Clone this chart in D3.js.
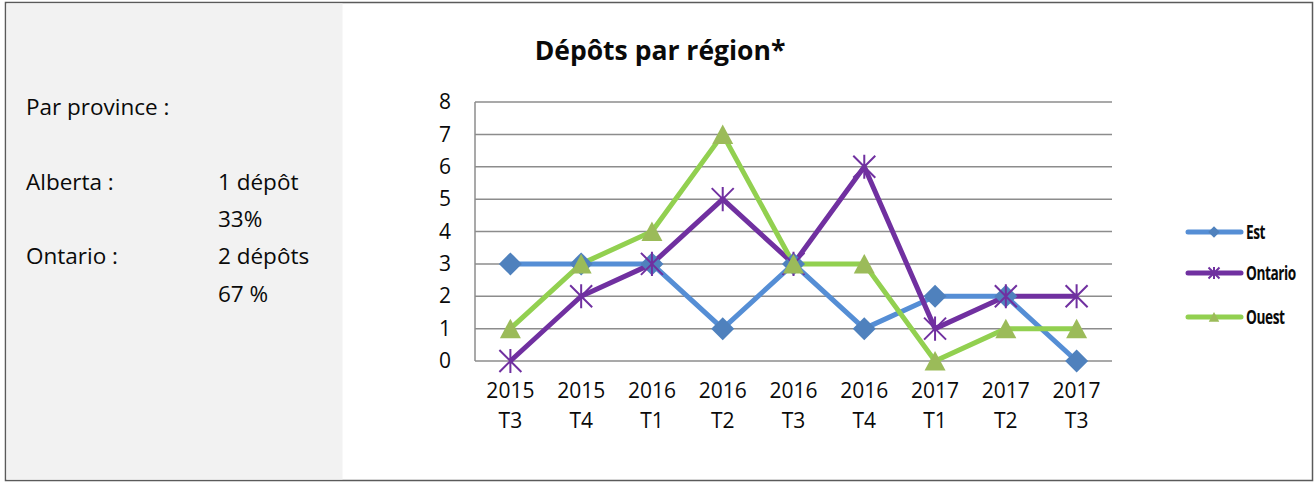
<!DOCTYPE html>
<html><head><meta charset="utf-8">
<script src="https://cdn.jsdelivr.net/npm/d3@7"></script>
<style>
html,body{margin:0;padding:0;background:#fff;}
svg{display:block;font-family:"Open Sans",Lato,sans-serif;}
</style></head>
<body>
<svg id="c" width="1315" height="483"></svg>
<script>
const categories = ["2015 T3","2015 T4","2016 T1","2016 T2","2016 T3","2016 T4","2017 T1","2017 T2","2017 T3"];
const est = [3,3,3,1,3,1,2,2,0];
const ontario = [0,2,3,5,3,6,1,2,2];
const ouest = [1,3,4,7,3,3,0,1,1];
const yTicks = [0,1,2,3,4,5,6,7,8];
const seriesNames = ["Est","Ontario","Ouest"];
const panelLines = [["Par province :",""],["Alberta :","1 dépôt"],["","33%"],["Ontario :","2 dépôts"],["","67 %"]];

(function(){
const FONT = '"Open Sans",Lato,sans-serif';
const svg = d3.select("#c");
svg.append("rect").attr("x",5.5).attr("y",2.5).attr("width",1307).attr("height",478).attr("fill","#fff").attr("stroke","#5a5a5a").attr("stroke-width",1.5);
svg.append("rect").attr("x",6.5).attr("y",3.5).attr("width",336).attr("height",476).attr("fill","#f2f2f2");

const panelY = [115,190,227,264,302];
panelLines.forEach((l,i)=>{
  if(l[0]) svg.append("text").attr("x",26).attr("y",panelY[i]).attr("font-size",22.5).attr("fill","#0a0a0a").text(l[0]);
  if(l[1]) svg.append("text").attr("x",218).attr("y",panelY[i]).attr("font-size",22.5).attr("fill","#0a0a0a").text(l[1]);
});

const pLeft=475, pRight=1112, pTop=102, pBottom=361;
const x = d3.scaleBand().domain(categories).range([pLeft,pRight]);
const y = d3.scaleLinear().domain([0,8]).range([pBottom,pTop]);

svg.append("text").attr("x",660).attr("y",60).attr("text-anchor","middle").attr("font-size",26.5).attr("font-weight","bold").attr("fill","#0a0a0a").text("Dépôts par région*");

const grid = svg.append("g");
grid.selectAll("line").data(yTicks).join("line")
  .attr("x1",pLeft).attr("x2",pRight).attr("y1",d=>y(d)).attr("y2",d=>y(d))
  .attr("stroke","#8c8c8c").attr("stroke-width",1.5);
svg.append("line").attr("x1",pLeft).attr("x2",pLeft).attr("y1",pTop).attr("y2",pBottom).attr("stroke","#8c8c8c").attr("stroke-width",1.5);

const yAxis = svg.append("g").attr("transform",`translate(${pLeft},0)`)
  .call(d3.axisLeft(y).tickValues(yTicks).tickSize(0).tickPadding(24));
yAxis.select(".domain").remove();
yAxis.selectAll("text").attr("font-size",21).attr("fill","#0a0a0a").attr("font-family",FONT);

const xAxis = svg.append("g").attr("transform",`translate(0,${pBottom})`)
  .call(d3.axisBottom(x).tickSize(0).tickPadding(0));
xAxis.select(".domain").remove();
xAxis.selectAll("text").each(function(d){
  const t=d3.select(this); const parts=d.split(" ");
  t.text(null).attr("font-size",21).attr("fill","#0a0a0a").attr("font-family",FONT).attr("dy",null).attr("y",0);
  t.append("tspan").attr("x",0).attr("y",37).text(parts[0]);
  t.append("tspan").attr("x",0).attr("y",67).text(parts[1]);
});

const cx = d=>x(d)+x.bandwidth()/2;
const line = d3.line().x((d,i)=>cx(categories[i])).y(d=>y(d));

const cfg = [
  {name:seriesNames[0],data:est,line:"#558ed5",mark:"#4f81bd",type:"diamond"},
  {name:seriesNames[1],data:ontario,line:"#7030a0",mark:"#7030a0",type:"star"},
  {name:seriesNames[2],data:ouest,line:"#92d050",mark:"#9bbb59",type:"triangle"}
];

function marker(g,type,color,s){
  if(type==="diamond"){
    g.append("path").attr("d",`M0,${-11.5*s}L${11.5*s},0L0,${11.5*s}L${-11.5*s},0Z`).attr("fill",color);
  } else if(type==="triangle"){
    g.append("path").attr("d",`M0,${-10*s}L${10.5*s},${9.5*s}L${-10.5*s},${9.5*s}Z`).attr("fill",color);
  } else {
    const r=11*s;
    g.append("path").attr("d",`M${-r},${-r}L${r},${r}M${-r},${r}L${r},${-r}M0,${-r*1.1}L0,${r*1.1}`).attr("stroke",color).attr("stroke-width",2).attr("fill","none");
  }
}

cfg.forEach(c=>{
  svg.append("path").datum(c.data).attr("d",line).attr("fill","none").attr("stroke",c.line).attr("stroke-width",5).attr("stroke-linejoin","round");
});
cfg.forEach(c=>{
  c.data.forEach((v,i)=>{
    const g=svg.append("g").attr("transform",`translate(${cx(categories[i])},${y(v)})`);
    marker(g,c.type,c.mark,1);
  });
});

const legY=[232,273,317];
cfg.forEach((c,i)=>{
  const g=svg.append("g").attr("transform",`translate(0,${legY[i]})`);
  g.append("line").attr("x1",1188).attr("x2",1241).attr("y1",0).attr("y2",0).attr("stroke",c.line).attr("stroke-width",5).attr("stroke-linecap","round");
  const m=g.append("g").attr("transform","translate(1214,0)");
  marker(m,c.type,c.mark,0.5);
  g.append("text").attr("transform","translate(1246,6.5) scale(0.72,1)").attr("font-size",19).attr("font-weight","bold").attr("letter-spacing",-0.6).attr("fill","#0a0a0a").text(c.name);
});
})();
</script>
</body></html>
